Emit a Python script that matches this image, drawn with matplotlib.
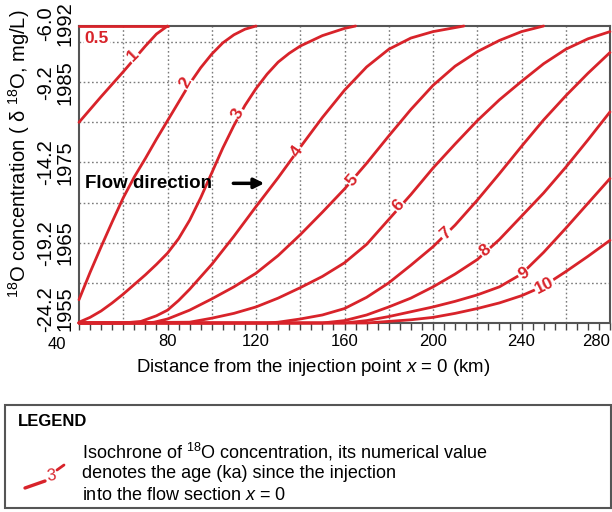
import matplotlib
matplotlib.use('Agg')
import matplotlib.pyplot as plt
from matplotlib.ticker import MultipleLocator
from matplotlib.patches import Rectangle
from matplotlib.lines import Line2D
import matplotlib.transforms as mtransforms

plt.rcParams['font.family'] = ['Liberation Sans', 'DejaVu Sans']
plt.rcParams['mathtext.fontset'] = 'custom'
plt.rcParams['mathtext.rm'] = 'Liberation Sans'
plt.rcParams['mathtext.it'] = 'Liberation Sans:italic'
plt.rcParams['mathtext.bf'] = 'Liberation Sans:bold'

# ---------------- data ----------------
ages = ['0.5', '1', '2', '3', '4', '5', '6', '7', '8', '9', '10']

x05 = [40, 80]
y05 = [1992, 1992]
x1 = [40, 50, 60, 70, 75, 80]
y1 = [1980, 1983.2, 1986.3, 1989.5, 1991.0, 1992]
x2 = [40, 45, 50, 55, 60, 65, 70, 75, 80, 85, 90, 95, 100, 105, 110, 115, 120]
y2 = [1957.9, 1961.3, 1964.5, 1967.6, 1970.6, 1973.2, 1975.5, 1977.9, 1980.2,
      1982.5, 1984.8, 1986.8, 1988.5, 1989.9, 1990.9, 1991.6, 1992]
x3 = [40, 45, 50, 55, 60, 65, 70, 75, 80, 85, 90, 95, 100, 105, 110, 115, 120,
      125, 130, 135, 140, 150, 160, 165]
y3 = [1955.1, 1955.7, 1956.5, 1957.5, 1958.6, 1959.8, 1961.0, 1962.3, 1963.7,
      1965.5, 1967.8, 1970.6, 1973.7, 1976.8, 1979.6, 1982.1, 1984.2, 1986.0,
      1987.5, 1988.6, 1989.5, 1990.8, 1991.7, 1992]
x4 = [40, 60, 68, 75, 80, 85, 90, 100, 110, 120, 130, 140, 150, 160, 170, 180,
      190, 200, 214]
y4 = [1955, 1955, 1955.2, 1955.9, 1956.6, 1957.8, 1959.2, 1962.3, 1965.8, 1969.5,
      1973.1, 1976.9, 1980.6, 1984.0, 1986.9, 1989.1, 1990.5, 1991.3, 1992]
x5 = [40, 70, 74, 80, 90, 100, 110, 120, 130, 140, 150, 160, 170, 180, 190, 200,
      210, 220, 230, 240, 250]
y5 = [1955, 1955, 1955.1, 1955.5, 1956.6, 1958.0, 1959.5, 1961.2, 1963.4, 1966.0,
      1968.8, 1971.7, 1974.9, 1978.3, 1981.6, 1984.6, 1987.0, 1988.8, 1990.2,
      1991.3, 1992]
x6 = [40, 90, 100, 110, 120, 130, 140, 150, 160, 170, 180, 190, 200, 210, 220,
      230, 240, 250, 260, 270, 280]
y6 = [1955, 1955.1, 1955.6, 1956.2, 1957.0, 1958.1, 1959.4, 1960.8, 1962.5,
      1964.8, 1967.9, 1971.0, 1974.3, 1977.3, 1980.2, 1982.8, 1985.1, 1987.3,
      1989.1, 1990.4, 1991.3]
x7 = [40, 125, 130, 140, 150, 160, 170, 180, 190, 200, 210, 220, 230, 240, 250,
      260, 270, 280]
y7 = [1955, 1955, 1955.1, 1955.5, 1956.0, 1956.8, 1958.2, 1960.0, 1962.2, 1964.5,
      1967.2, 1970.3, 1973.6, 1977.0, 1980.3, 1983.3, 1986.1, 1988.7]
x8 = [40, 150, 160, 170, 180, 190, 200, 210, 220, 230, 240, 250, 260, 270, 280]
y8 = [1955, 1955, 1955.3, 1956.0, 1957.0, 1958.1, 1959.5, 1961.1, 1962.9, 1965.4,
      1968.3, 1971.2, 1974.4, 1977.8, 1981.3]
x9 = [40, 160, 170, 180, 190, 200, 210, 220, 230, 240, 250, 260, 270, 280]
y9 = [1955, 1955, 1955.3, 1955.8, 1956.4, 1957.0, 1957.7, 1958.5, 1959.5, 1961.1,
      1963.8, 1966.8, 1969.9, 1973.0]
x10 = [40, 170, 180, 190, 200, 210, 220, 230, 240, 250, 260, 270, 280]
y10 = [1955, 1955, 1955.2, 1955.4, 1955.7, 1956.2, 1956.8, 1957.5, 1958.4,
       1959.6, 1961.4, 1963.3, 1965.3]

curves_x = [x05, x1, x2, x3, x4, x5, x6, x7, x8, x9, x10]
curves_y = [y05, y1, y2, y3, y4, y5, y6, y7, y8, y9, y10]

x_ticks = [40, 80, 120, 160, 200, 240, 280]
year_ticks = [1955, 1965, 1975, 1985, 1992]
conc_labels = ['-24.2', '-19.2', '-14.2', '-9.2', '-6.0']

# label placement (layout)
lab_x = [48.0, 64.4, 88.0, 112.0, 138.5, 163.5, 184.5, 206.0, 223.5, 241.0, 250.5]
lab_y = [1990.4, 1988.3, 1984.9, 1981.1, 1976.4, 1972.8, 1969.6, 1966.1, 1964.0,
         1961.1, 1959.6]
lab_rot = [0, 45, 62, 63, 55, 50, 47, 42, 40, 33, 27]

RED = '#d8232a'

# ---------------- figure ----------------
fig = plt.figure(figsize=(6.12, 5.12), dpi=100)
ax = fig.add_axes([79 / 612, 1 - 323 / 512, (610 - 79) / 612, (323 - 26) / 512])
ax.set_xlim(40, 280)
ax.set_ylim(1955, 1992)

# dotted grid
for gx in range(60, 280, 20):
    ax.axvline(gx, color='#7a7a7a', lw=1.0, ls=(0, (1.2, 1.8)), zorder=1)
for gy in range(1960, 1991, 5):
    ax.axhline(gy, color='#7a7a7a', lw=1.0, ls=(0, (1.2, 1.8)), zorder=1)

# isochrones
for cx, cy in zip(curves_x, curves_y):
    ax.plot(cx, cy, color=RED, lw=2.0, solid_capstyle='round',
            solid_joinstyle='round', zorder=3, clip_on=False)

# inline labels
for a, lx, ly, r in zip(ages, lab_x, lab_y, lab_rot):
    ax.text(lx, ly, a, color=RED, fontsize=12.5, fontweight='bold',
            ha='center', va='center', rotation=r, zorder=4,
            bbox=dict(boxstyle='square,pad=0.05', fc='white', ec='none'))

# flow direction
ax.text(42.7, 1972.4, 'Flow direction', fontsize=13.5, fontweight='bold',
        ha='left', va='center', zorder=5)
ax.annotate('', xy=(125, 1972.4), xytext=(108.5, 1972.4),
            arrowprops=dict(arrowstyle='-|>', lw=2.5, color='black',
                            mutation_scale=15), zorder=5)

# spines
for s in ax.spines.values():
    s.set_color('#555555')
    s.set_linewidth(1.5)

# x axis
ax.set_xticks(x_ticks)
ax.set_xticklabels([str(v) for v in x_ticks])
ax.xaxis.set_minor_locator(MultipleLocator(5))
ax.tick_params(axis='x', which='both', direction='out', length=5, width=1,
               color='#444444', labelsize=12, pad=3)
xl = ax.get_xticklabels()
xl[0].set_transform(xl[0].get_transform() +
                    mtransforms.ScaledTranslation(-22 / 100, -3 / 100,
                                                  fig.dpi_scale_trans))
xl[-1].set_transform(xl[-1].get_transform() +
                     mtransforms.ScaledTranslation(-14 / 100, 0, fig.dpi_scale_trans))
ax.set_xlabel('Distance from the injection point $x$ = 0 (km)', fontsize=13.4)
ax.xaxis.label.set_va('center')
ax.xaxis.set_label_coords((313 - 79) / 531, (323 - 367) / 297)

# y axis: two rotated label columns (concentration outside, year inside)
ax.set_yticks(year_ticks)
ax.set_yticklabels([f'{c}\n{y}' for c, y in zip(conc_labels, year_ticks)])
ax.tick_params(axis='y', length=0, pad=3, labelsize=14.5)
for lbl in ax.get_yticklabels():
    lbl.set_rotation(90)
    lbl.set_ha('right')
    lbl.set_va('center')
    lbl.set_multialignment('center')
    lbl.set_linespacing(1.05)
yl = ax.get_yticklabels()
yl[-1].set_transform(yl[-1].get_transform() +
                     mtransforms.ScaledTranslation(0, 2 / 100, fig.dpi_scale_trans))
yl[0].set_transform(yl[0].get_transform() +
                    mtransforms.ScaledTranslation(0, 14 / 100, fig.dpi_scale_trans))

ax.set_ylabel(r'$^{18}$O concentration ( δ $^{18}$O, mg/L)', fontsize=14.5)
ax.yaxis.label.set_va('center')
ax.yaxis.set_label_coords((19 - 79) / 531, (323 - 154) / 297)

# ---------------- legend box ----------------
fig.add_artist(Rectangle((5 / 612, 1 - 508 / 512), 606 / 612, 103 / 512,
                         transform=fig.transFigure, fill=False,
                         ec='#555555', lw=1.5))
fig.text(18 / 612, 1 - 422 / 512, 'LEGEND', fontsize=12, fontweight='bold',
         va='center', ha='left')
fig.text(82 / 612, 1 - 452 / 512,
         'Isochrone of $^{18}$O concentration, its numerical value',
         fontsize=13, va='center', ha='left')
fig.text(82 / 612, 1 - 474 / 512, 'denotes the age (ka) since the injection',
         fontsize=13, va='center', ha='left')
fig.text(82 / 612, 1 - 495 / 512, 'into the flow section $x$ = 0',
         fontsize=13, va='center', ha='left')
fig.add_artist(Line2D([25 / 612, 45 / 612], [1 - 488 / 512, 1 - 481 / 512],
                      transform=fig.transFigure, color=RED, lw=2.4,
                      solid_capstyle='round'))
fig.text(51 / 612, 1 - 476 / 512, '3', color=RED, fontsize=12,
         ha='center', va='center', rotation=8)
fig.add_artist(Line2D([57 / 612, 64 / 612], [1 - 470 / 512, 1 - 465 / 512],
                      transform=fig.transFigure, color=RED, lw=2.0,
                      solid_capstyle='round'))

fig.savefig('out.png', dpi=100)
